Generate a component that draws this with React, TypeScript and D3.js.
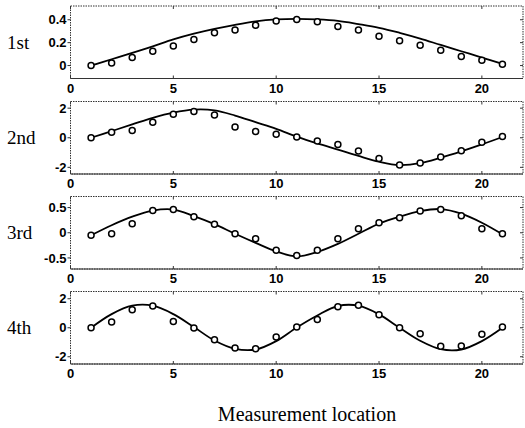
import React from "react";
import * as d3 from "d3";

const locations = [1, 2, 3, 4, 5, 6, 7, 8, 9, 10, 11, 12, 13, 14, 15, 16, 17, 18, 19, 20, 21];

const mode1Measured = [0, 0.022, 0.07, 0.125, 0.17, 0.228, 0.286, 0.31, 0.353, 0.39, 0.403, 0.383, 0.342, 0.31, 0.256, 0.217, 0.178, 0.133, 0.078, 0.047, 0.011];
const mode1Model = [0, 0.055, 0.11, 0.167, 0.228, 0.278, 0.32, 0.356, 0.386, 0.403, 0.408, 0.403, 0.39, 0.362, 0.33, 0.286, 0.236, 0.18, 0.125, 0.07, 0.014];

const mode2Measured = [0, 0.37, 0.49, 1.05, 1.58, 1.77, 1.53, 0.72, 0.43, 0.24, 0.05, -0.22, -0.45, -0.9, -1.4, -1.85, -1.7, -1.3, -0.88, -0.31, 0.08];
const mode2Model = [0, 0.45, 0.9, 1.35, 1.7, 1.9, 1.85, 1.5, 1.05, 0.6, 0.08, -0.38, -0.8, -1.23, -1.62, -1.85, -1.72, -1.35, -0.92, -0.45, 0.05];

const mode3Measured = [-0.05, -0.02, 0.18, 0.44, 0.46, 0.32, 0.17, -0.02, -0.12, -0.35, -0.45, -0.35, -0.12, 0.08, 0.2, 0.3, 0.43, 0.46, 0.34, 0.08, -0.02];
const mode3Model = [-0.05, 0.15, 0.32, 0.44, 0.46, 0.33, 0.17, -0.02, -0.2, -0.37, -0.47, -0.38, -0.22, -0.02, 0.18, 0.32, 0.43, 0.47, 0.38, 0.2, -0.03];

const mode4Measured = [0, 0.39, 1.25, 1.5, 0.43, -0.02, -0.82, -1.39, -1.45, -0.64, 0.05, 0.57, 1.45, 1.55, 0.89, 0, -0.41, -1.27, -1.25, -0.45, 0.05];
const mode4Model = [0, 0.94, 1.52, 1.52, 0.94, 0.05, -0.88, -1.45, -1.5, -0.92, 0.02, 0.85, 1.5, 1.52, 0.92, 0, -0.9, -1.48, -1.5, -0.92, 0];

const rowLabels = ["1st", "2nd", "3rd", "4th"];
const xTicks = [0, 5, 10, 15, 20];
const yTicks1 = [0, 0.2, 0.4];
const yTicks2 = [-2, 0, 2];
const yTicks3 = [-0.5, 0, 0.5];
const yTicks4 = [-2, 0, 2];
const yDomain1: [number, number] = [-0.113, 0.52];
const yDomain2: [number, number] = [-2.45, 2.45];
const yDomain3: [number, number] = [-0.72, 0.72];
const yDomain4: [number, number] = [-2.5, 2.5];
const xDomain: [number, number] = [0, 22];
const xLabel = "Measurement location";

const panels = [
  { label: rowLabels[0], measured: mode1Measured, model: mode1Model, ticks: yTicks1, domain: yDomain1 },
  { label: rowLabels[1], measured: mode2Measured, model: mode2Model, ticks: yTicks2, domain: yDomain2 },
  { label: rowLabels[2], measured: mode3Measured, model: mode3Model, ticks: yTicks3, domain: yDomain3 },
  { label: rowLabels[3], measured: mode4Measured, model: mode4Model, ticks: yTicks4, domain: yDomain4 },
];

const W = 525;
const H = 428;
const left = 70.5;
const right = 523;
const tops = [6, 101.5, 196.5, 291.5];
const ph = 72.5;
const tickFont = "'Liberation Sans', Arial, sans-serif";
const serif = "'Liberation Serif', 'Times New Roman', serif";

export default function App() {
  const x = d3.scaleLinear().domain(xDomain).range([left, right]);
  return (
    <svg width={W} height={H} style={{ position: "absolute", left: 0, top: 0, background: "#fff" }}>
      <rect x={0} y={0} width={W} height={H} fill="#fff" />
      {panels.map((p, i) => {
        const top = tops[i];
        const bottom = top + ph;
        const y = d3.scaleLinear().domain(p.domain).range([bottom, top]);
        const line = d3
          .line<number>()
          .x((_, j) => x(locations[j]))
          .y((d) => y(d))
          .curve(d3.curveCatmullRom.alpha(0.5));
        return (
          <g key={i}>
            <rect x={left} y={top} width={right - left} height={ph} fill="none" stroke="#333" strokeWidth={1} strokeDasharray="1.5,1" />
            <line x1={left} x2={right} y1={bottom} y2={bottom} stroke="#333" strokeWidth={1} />
            {xTicks.map((t) => (
              <g key={"x" + t}>
                <line x1={x(t)} x2={x(t)} y1={bottom} y2={bottom - 3} stroke="#333" />
                <line x1={x(t)} x2={x(t)} y1={top} y2={top + 3} stroke="#333" />
                <text x={x(t)} y={bottom + 14} textAnchor="middle" fontFamily={tickFont} fontWeight="bold" fontSize={13}>
                  {t}
                </text>
              </g>
            ))}
            {p.ticks.map((t) => (
              <g key={"y" + t}>
                <line x1={left} x2={left - 3} y1={y(t)} y2={y(t)} stroke="#333" />
                <line x1={right} x2={right - 3} y1={y(t)} y2={y(t)} stroke="#333" />
                <text x={left - 4} y={y(t)} dy="0.36em" textAnchor="end" fontFamily={tickFont} fontWeight="bold" fontSize={13}>
                  {String(t)}
                </text>
              </g>
            ))}
            <text x={7} y={(top + bottom) / 2} dy="0.35em" fontFamily={serif} fontSize={19}>
              {p.label}
            </text>
            <path d={line(p.model) || ""} fill="none" stroke="#000" strokeWidth={1.8} />
            {p.measured.map((v, j) => (
              <circle key={j} cx={x(locations[j])} cy={y(v)} r={3} fill="#fff" stroke="#000" strokeWidth={1.5} />
            ))}
          </g>
        );
      })}
      <text x={307} y={421} textAnchor="middle" fontFamily={serif} fontSize={20}>
        {xLabel}
      </text>
    </svg>
  );
}
